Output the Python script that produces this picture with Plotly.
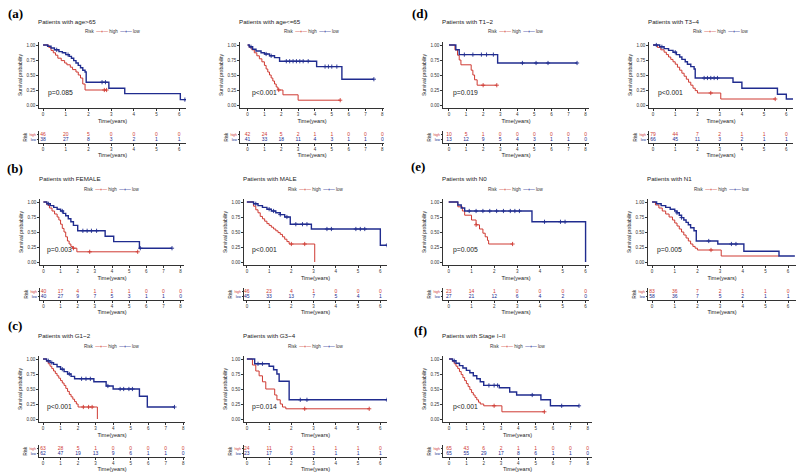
import plotly.graph_objects as go

RED = "#CF3A32"
BLUE = "#202C8F"

# ---------------- data ----------------
# (a) age>65
a1_high_t = [0, 0.25, 0.35, 0.45, 0.55, 0.65, 0.8, 0.95, 1.05, 1.2, 1.3, 1.45, 1.55, 1.65, 1.75, 1.85]
a1_high_s = [1, 0.96, 0.91, 0.87, 0.83, 0.78, 0.74, 0.70, 0.67, 0.63, 0.59, 0.55, 0.50, 0.45, 0.35, 0.25]
a1_high_end = 2.8
a1_high_cens = [2.7, 2.8]
a1_low_t = [0, 0.2, 0.35, 0.5, 0.7, 0.85, 1.0, 1.15, 1.25, 1.35, 1.45, 1.55, 1.65, 1.75, 1.85, 1.9, 2.9, 3.6, 6.05]
a1_low_s = [1, 0.98, 0.95, 0.92, 0.89, 0.87, 0.84, 0.81, 0.78, 0.74, 0.70, 0.66, 0.62, 0.58, 0.55, 0.38, 0.28, 0.19, 0.09]
a1_low_end = 6.3
a1_low_cens = [0.6, 1.1, 2.6, 2.75, 6.25]
a1_risk_high = [46, 20, 5, 0, 0, 0, 0]
a1_risk_low = [38, 27, 8, 3, 2, 1, 1]

# (a) age<=65
a2_high_t = [0, 0.1, 0.25, 0.4, 0.55, 0.7, 0.85, 1.0, 1.1, 1.2, 1.3, 1.4, 1.5, 1.6, 1.7, 1.8, 2.1, 3.0]
a2_high_s = [1, 0.96, 0.92, 0.87, 0.82, 0.77, 0.72, 0.66, 0.60, 0.55, 0.50, 0.45, 0.40, 0.35, 0.30, 0.25, 0.17, 0.08]
a2_high_end = 5.5
a2_high_cens = [1.85, 5.5]
a2_low_t = [0, 0.1, 0.3, 0.5, 0.8, 1.0, 1.3, 1.6, 1.9, 4.1, 5.6]
a2_low_s = [1, 0.97, 0.93, 0.90, 0.87, 0.85, 0.82, 0.79, 0.73, 0.64, 0.43]
a2_low_end = 7.5
a2_low_cens = [0.2, 1.1, 1.4, 2.3, 2.5, 2.7, 2.9, 3.1, 3.3, 3.6, 4.6, 4.8, 5.0, 5.3, 7.5]
a2_risk_high = [42, 24, 5, 2, 1, 1, 0, 0, 0]
a2_risk_low = [41, 33, 18, 11, 4, 3, 1, 1, 0]

# (d) T1~2
d1_high_t = [0, 0.35, 0.5, 0.6, 0.7, 1.3, 1.4, 1.5, 1.65]
d1_high_s = [1, 0.92, 0.83, 0.75, 0.67, 0.58, 0.50, 0.42, 0.33]
d1_high_end = 2.8
d1_high_cens = [2.0, 2.8]
d1_low_t = [0, 0.4, 0.6, 2.85]
d1_low_s = [1, 0.92, 0.84, 0.70]
d1_low_end = 7.5
d1_low_cens = [0.9, 1.4, 1.9, 2.2, 2.6, 4.3, 5.1, 5.8, 7.5]
d1_risk_high = [10, 5, 1, 0, 0, 0, 0, 0, 0]
d1_risk_low = [13, 12, 9, 5, 4, 3, 1, 1, 0]

# (d) T3~4
d2_high_t = [0, 0.2, 0.35, 0.5, 0.6, 0.7, 0.8, 0.9, 1.0, 1.1, 1.2, 1.3, 1.4, 1.5, 1.6, 1.7, 1.8, 1.9, 2.0, 3.05]
d2_high_s = [1, 0.96, 0.92, 0.88, 0.84, 0.80, 0.76, 0.72, 0.68, 0.63, 0.58, 0.53, 0.48, 0.43, 0.38, 0.33, 0.28, 0.24, 0.20, 0.10]
d2_high_end = 5.5
d2_high_cens = [2.6, 5.5]
d2_low_t = [0, 0.3, 0.5, 0.7, 0.9, 1.05, 1.2, 1.3, 1.45, 1.55, 1.7, 1.85, 1.9, 3.6, 4.0, 5.6, 6.0]
d2_low_s = [1, 0.97, 0.94, 0.91, 0.88, 0.84, 0.80, 0.76, 0.72, 0.68, 0.64, 0.60, 0.45, 0.38, 0.28, 0.18, 0.10]
d2_low_end = 6.3
d2_low_cens = [0.15, 0.4, 1.0, 2.3, 2.45, 2.6, 2.75, 2.9]
d2_risk_high = [79, 44, 7, 2, 1, 1, 0]
d2_risk_low = [66, 45, 11, 3, 2, 1, 1]

# (b) FEMALE
b1_high_t = [0, 0.2, 0.35, 0.5, 0.65, 0.8, 0.9, 1.0, 1.1, 1.2, 1.3, 1.4, 1.5, 1.6, 1.7, 1.95]
b1_high_s = [1, 0.95, 0.90, 0.85, 0.80, 0.75, 0.70, 0.63, 0.56, 0.50, 0.42, 0.35, 0.30, 0.26, 0.23, 0.17]
b1_high_end = 5.5
b1_high_cens = [1.75, 2.7, 5.5]
b1_low_t = [0, 0.2, 0.4, 0.6, 0.8, 1.0, 1.15, 1.3, 1.45, 1.6, 1.75, 2.0, 3.6, 4.1, 5.6]
b1_low_s = [1, 0.97, 0.94, 0.91, 0.88, 0.85, 0.81, 0.77, 0.72, 0.67, 0.61, 0.52, 0.43, 0.34, 0.23]
b1_low_end = 7.5
b1_low_cens = [0.3, 1.1, 2.3, 2.55, 2.8, 3.1, 5.65, 7.5]
b1_risk_high = [40, 17, 4, 1, 1, 1, 0, 0, 0]
b1_risk_low = [40, 27, 9, 7, 5, 3, 1, 1, 0]

# (b) MALE
b2_high_t = [0, 0.3, 0.4, 0.5, 0.6, 0.7, 0.8, 0.9, 1.0, 1.1, 1.2, 1.3, 1.4, 1.5, 1.6, 1.7, 1.8, 1.9, 3.05]
b2_high_s = [1, 0.93, 0.87, 0.82, 0.76, 0.72, 0.68, 0.64, 0.61, 0.58, 0.55, 0.52, 0.49, 0.46, 0.42, 0.38, 0.34, 0.30, 0.0]
b2_high_end = 3.05
b2_high_cens = [2.0, 2.6]
b2_low_t = [0, 0.3, 0.5, 0.7, 0.9, 1.1, 1.3, 1.5, 1.7, 1.95, 2.9, 6.0]
b2_low_s = [1, 0.97, 0.94, 0.91, 0.88, 0.85, 0.82, 0.79, 0.75, 0.63, 0.55, 0.28]
b2_low_end = 6.3
b2_low_cens = [0.4, 1.0, 1.2, 1.5, 1.8, 2.2, 2.5, 2.7, 3.6, 3.8, 4.9, 5.1, 5.3, 6.3]
b2_risk_high = [46, 23, 4, 1, 0, 0, 0]
b2_risk_low = [45, 33, 13, 7, 5, 4, 1]

# (e) N0
e1_high_t = [0, 0.4, 0.6, 0.7, 1.0, 1.2, 1.35, 1.5, 1.6, 1.7, 1.75]
e1_high_s = [1, 0.92, 0.85, 0.78, 0.70, 0.62, 0.55, 0.48, 0.42, 0.36, 0.30]
e1_high_end = 2.8
e1_high_cens = [1.2, 2.8]
e1_low_t = [0, 0.4, 0.55, 0.7, 3.65, 6.0]
e1_low_s = [1, 0.95, 0.90, 0.85, 0.67, 0.0]
e1_low_end = 6.0
e1_low_cens = [0.9, 1.2, 1.5, 1.8, 2.1, 2.4, 2.7, 2.9, 3.1, 4.2, 4.9, 5.1]
e1_risk_high = [23, 14, 1, 0, 0, 0, 0]
e1_risk_low = [27, 21, 12, 6, 4, 2, 0]

# (e) N1
e2_high_t = [0, 0.15, 0.3, 0.45, 0.6, 0.75, 0.9, 1.0, 1.1, 1.2, 1.3, 1.4, 1.5, 1.6, 1.7, 1.8, 1.9, 2.0, 3.05]
e2_high_s = [1, 0.95, 0.90, 0.85, 0.80, 0.75, 0.70, 0.65, 0.60, 0.55, 0.50, 0.45, 0.40, 0.35, 0.30, 0.26, 0.23, 0.20, 0.10]
e2_high_end = 5.6
e2_high_cens = [2.6]
e2_low_t = [0, 0.2, 0.4, 0.6, 0.8, 1.0, 1.1, 1.2, 1.3, 1.4, 1.5, 1.6, 1.7, 1.85, 1.95, 2.9, 4.05, 5.6]
e2_low_s = [1, 0.97, 0.94, 0.91, 0.88, 0.85, 0.82, 0.78, 0.74, 0.70, 0.66, 0.62, 0.57, 0.52, 0.35, 0.30, 0.18, 0.10]
e2_low_end = 6.3
e2_low_cens = [1.1, 1.3, 2.5, 3.5, 3.7]
e2_risk_high = [83, 36, 7, 2, 1, 1, 0]
e2_risk_low = [58, 36, 7, 5, 2, 1, 1]

# (c) G1~2
c1_high_t = [0, 0.2, 0.3, 0.4, 0.5, 0.6, 0.7, 0.8, 0.9, 1.0, 1.1, 1.2, 1.3, 1.4, 1.5, 1.6, 1.7, 1.8, 1.9, 2.0, 3.1]
c1_high_s = [1, 0.96, 0.92, 0.88, 0.84, 0.80, 0.76, 0.72, 0.68, 0.64, 0.60, 0.56, 0.51, 0.46, 0.41, 0.37, 0.33, 0.29, 0.25, 0.20, 0.0]
c1_high_end = 3.1
c1_high_cens = [2.3, 2.6, 2.8]
c1_low_t = [0, 0.2, 0.4, 0.6, 0.8, 1.0, 1.2, 1.4, 1.6, 1.8, 2.9, 3.6, 4.0, 5.5, 5.95]
c1_low_s = [1, 0.97, 0.94, 0.91, 0.87, 0.83, 0.79, 0.75, 0.71, 0.67, 0.62, 0.55, 0.50, 0.38, 0.20]
c1_low_end = 7.5
c1_low_cens = [0.3, 0.5, 1.1, 1.5, 2.2, 2.45, 2.7, 3.7, 4.4, 4.6, 4.9, 5.1, 7.5]
c1_risk_high = [63, 28, 5, 1, 0, 0, 0, 0, 0]
c1_risk_low = [62, 47, 19, 13, 9, 6, 1, 1, 0]

# (c) G3~4
c2_high_t = [0, 0.25, 0.4, 0.55, 0.7, 0.85, 1.25, 1.35, 1.5, 1.6, 1.75]
c2_high_s = [1, 0.90, 0.80, 0.72, 0.62, 0.50, 0.40, 0.32, 0.25, 0.20, 0.17]
c2_high_end = 5.5
c2_high_cens = [2.6, 5.5]
c2_low_t = [0, 0.35, 1.0, 1.2, 1.35, 1.45, 1.9]
c2_low_s = [1, 0.92, 0.88, 0.82, 0.75, 0.63, 0.32]
c2_low_end = 6.3
c2_low_cens = [0.5, 0.7, 2.4, 2.7, 6.3]
c2_risk_high = [24, 11, 2, 1, 1, 1, 0]
c2_risk_low = [23, 17, 6, 3, 1, 1, 1]

# (f) Stage I~II
f_high_t = [0, 0.2, 0.3, 0.4, 0.5, 0.6, 0.7, 0.8, 0.9, 1.0, 1.1, 1.2, 1.3, 1.4, 1.5, 1.6, 1.7, 1.8, 2.0, 3.05]
f_high_s = [1, 0.96, 0.92, 0.88, 0.84, 0.79, 0.74, 0.69, 0.64, 0.59, 0.54, 0.49, 0.44, 0.40, 0.36, 0.32, 0.28, 0.25, 0.22, 0.12]
f_high_end = 5.5
f_high_cens = [2.6, 5.5]
f_low_t = [0, 0.2, 0.4, 0.6, 0.8, 1.0, 1.2, 1.4, 1.6, 1.8, 2.0, 2.9, 3.5, 3.9, 5.3, 5.85]
f_low_s = [1, 0.97, 0.93, 0.89, 0.85, 0.81, 0.77, 0.72, 0.67, 0.62, 0.56, 0.52, 0.45, 0.40, 0.32, 0.22]
f_low_end = 7.5
f_low_cens = [0.3, 2.3, 2.6, 2.8, 4.8, 6.5, 7.5]
f_risk_high = [65, 43, 6, 2, 1, 1, 0, 0, 0]
f_risk_low = [65, 55, 29, 17, 8, 6, 1, 1, 0]

titles = ["Patients with age>65", "Patients with age<=65", "Patients with T1~2", "Patients with T3~4",
          "Patients with FEMALE", "Patients with MALE", "Patients with N0", "Patients with N1",
          "Patients with G1~2", "Patients with G3~4", "Patients with Stage I~II"]
pvalues = ["p=0.085", "p<0.001", "p=0.019", "p<0.001",
           "p=0.003", "p<0.001", "p=0.005", "p=0.005",
           "p<0.001", "p=0.014", "p<0.001"]
xmax_years = [6, 8, 8, 6, 8, 6, 6, 6, 8, 6, 8]
panel_letters = ["(a)", "(b)", "(c)", "(d)", "(e)", "(f)"]

curves = [
    (a1_high_t, a1_high_s, a1_high_end, a1_high_cens, a1_low_t, a1_low_s, a1_low_end, a1_low_cens, a1_risk_high, a1_risk_low),
    (a2_high_t, a2_high_s, a2_high_end, a2_high_cens, a2_low_t, a2_low_s, a2_low_end, a2_low_cens, a2_risk_high, a2_risk_low),
    (d1_high_t, d1_high_s, d1_high_end, d1_high_cens, d1_low_t, d1_low_s, d1_low_end, d1_low_cens, d1_risk_high, d1_risk_low),
    (d2_high_t, d2_high_s, d2_high_end, d2_high_cens, d2_low_t, d2_low_s, d2_low_end, d2_low_cens, d2_risk_high, d2_risk_low),
    (b1_high_t, b1_high_s, b1_high_end, b1_high_cens, b1_low_t, b1_low_s, b1_low_end, b1_low_cens, b1_risk_high, b1_risk_low),
    (b2_high_t, b2_high_s, b2_high_end, b2_high_cens, b2_low_t, b2_low_s, b2_low_end, b2_low_cens, b2_risk_high, b2_risk_low),
    (e1_high_t, e1_high_s, e1_high_end, e1_high_cens, e1_low_t, e1_low_s, e1_low_end, e1_low_cens, e1_risk_high, e1_risk_low),
    (e2_high_t, e2_high_s, e2_high_end, e2_high_cens, e2_low_t, e2_low_s, e2_low_end, e2_low_cens, e2_risk_high, e2_risk_low),
    (c1_high_t, c1_high_s, c1_high_end, c1_high_cens, c1_low_t, c1_low_s, c1_low_end, c1_low_cens, c1_risk_high, c1_risk_low),
    (c2_high_t, c2_high_s, c2_high_end, c2_high_cens, c2_low_t, c2_low_s, c2_low_end, c2_low_cens, c2_risk_high, c2_risk_low),
    (f_high_t, f_high_s, f_high_end, f_high_cens, f_low_t, f_low_s, f_low_end, f_low_cens, f_risk_high, f_risk_low),
]

# ---------------- layout geometry (pixels) ----------------
W, H = 800, 475
# (row, left px, right px, x-range low, x-range high)
geom = [
    (0, 39, 186, -0.18, 6.3), (0, 240, 384, -0.45, 8.1), (0, 443, 589, -0.35, 8.2), (0, 649, 793, -0.18, 6.3),
    (1, 40, 184, -0.2, 8.2), (1, 244, 387, -0.13, 6.3), (1, 443, 589, -0.25, 6.15), (1, 648, 796, -0.18, 6.35),
    (2, 39, 185, -0.23, 8.1), (2, 244, 387, -0.13, 6.3), (2, 443, 592, -0.35, 8.25),
]
letter_pos = [(15, 13), (15, 168), (15, 325), (420, 13), (418, 166), (420, 330)]
ROW_DY = 157


def px_x(p):
    return p / W


def px_y(p):
    return 1 - p / H


def step_at(t, s, x):
    v = s[0]
    for ti, si in zip(t, s):
        if ti <= x:
            v = si
    return v


FONT = "Liberation Sans, Arial, sans-serif"
fig = go.Figure()
layout = dict(width=W, height=H, margin=dict(l=0, r=0, t=0, b=0, pad=0), autosize=False,
              paper_bgcolor="white", plot_bgcolor="white", showlegend=False,
              font=dict(family=FONT, color="#222222", size=5))
annotations = []

for k, (cv, g) in enumerate(zip(curves, geom)):
    ht, hs, hend, hcens, lt, ls, lend, lcens, rh, rl = cv
    row, L, R, x0, x1 = g
    xm = xmax_years[k]
    n_plot = 2 * k + 1
    n_tab = 2 * k + 2
    xr = lambda n: "x" if n == 1 else f"x{n}"
    yr = lambda n: "y" if n == 1 else f"y{n}"
    xa = lambda n: "xaxis" if n == 1 else f"xaxis{n}"
    ya = lambda n: "yaxis" if n == 1 else f"yaxis{n}"

    top = 42 + ROW_DY * row
    bot = 108 + ROW_DY * row
    ttop = 131 + ROW_DY * row
    tbot = 143 + ROW_DY * row

    for t, s, end, cens, col, w in [(ht, hs, hend, hcens, RED, 1.0), (lt, ls, lend, lcens, BLUE, 1.4)]:
        fig.add_trace(go.Scatter(x=t + [end], y=s + [s[-1]], mode="lines",
                                 line=dict(shape="hv", color=col, width=w),
                                 xaxis=xr(n_plot), yaxis=yr(n_plot), hoverinfo="skip"))
        fig.add_trace(go.Scatter(x=cens, y=[step_at(t, s, c) for c in cens], mode="markers",
                                 marker=dict(symbol="cross-thin", size=3, line=dict(width=0.9, color=col)),
                                 xaxis=xr(n_plot), yaxis=yr(n_plot), hoverinfo="skip"))

    ticks = list(range(0, xm + 1))
    fig.add_trace(go.Scatter(x=ticks, y=[1] * len(ticks), mode="text", text=[str(v) for v in rh],
                             textfont=dict(color=RED, size=5, family=FONT),
                             xaxis=xr(n_tab), yaxis=yr(n_tab), hoverinfo="skip"))
    fig.add_trace(go.Scatter(x=ticks, y=[0] * len(ticks), mode="text", text=[str(v) for v in rl],
                             textfont=dict(color=BLUE, size=5, family=FONT),
                             xaxis=xr(n_tab), yaxis=yr(n_tab), hoverinfo="skip"))

    common_x = dict(range=[x0, x1], tickvals=ticks, showline=True, linecolor="black", linewidth=0.8,
                    ticks="outside", ticklen=2, tickwidth=0.8, tickcolor="black", showgrid=False,
                    zeroline=False, tickfont=dict(size=4.5, color="#333"), fixedrange=True, automargin=False)
    layout[xa(n_plot)] = dict(common_x, domain=[px_x(L), px_x(R)], anchor=yr(n_plot),
                              title=dict(text="Time(years)", font=dict(size=5.5), standoff=2))
    layout[ya(n_plot)] = dict(domain=[px_y(bot), px_y(top)], anchor=xr(n_plot), range=[-0.05, 1.05],
                              tickvals=[0, 0.25, 0.5, 0.75, 1.0],
                              ticktext=["0.00", "0.25", "0.50", "0.75", "1.00"],
                              showline=True, linecolor="black", linewidth=0.8, ticks="outside", ticklen=2,
                              tickwidth=0.8, tickcolor="black", showgrid=False, zeroline=False,
                              tickfont=dict(size=4.5, color="#333"), automargin=False, fixedrange=True,
                              title=dict(text="Survival probability", font=dict(size=5), standoff=3))
    layout[xa(n_tab)] = dict(common_x, domain=[px_x(L), px_x(R)], anchor=yr(n_tab),
                             title=dict(text="Time(years)", font=dict(size=5.5), standoff=1))
    layout[ya(n_tab)] = dict(domain=[px_y(tbot), px_y(ttop)], anchor=xr(n_tab), range=[-0.6, 1.6],
                             tickvals=[0, 1],
                             ticktext=[f"<span style='color:{BLUE}'>low</span>",
                                       f"<span style='color:{RED}'>high</span>"],
                             showline=True, linecolor="black", linewidth=0.8, ticks="outside", ticklen=1.5,
                             tickwidth=0.8, tickcolor="black", showgrid=False, zeroline=False, automargin=False,
                             fixedrange=True,
                             tickfont=dict(size=3.5), title=dict(text="Risk", font=dict(size=4.5), standoff=1))

    # title
    annotations.append(dict(text=titles[k], xref="paper", yref="paper", x=px_x(L - 3),
                            y=px_y(21 + ROW_DY * row), xanchor="left", yanchor="middle", showarrow=False,
                            font=dict(size=6.2, color="#222")))
    # legend
    annotations.append(dict(text=(f"Risk  <span style='color:{RED}'>—+—</span> high  "
                                  f"<span style='color:{BLUE}'>—+—</span> low"),
                            xref="paper", yref="paper", x=px_x((L + R) / 2), y=px_y(32 + ROW_DY * row),
                            xanchor="center", yanchor="middle", showarrow=False,
                            font=dict(size=4.5, color="#333")))
    # p value
    annotations.append(dict(text=pvalues[k], xref=xr(n_plot), yref=yr(n_plot), x=0.12, y=0.2,
                            xanchor="left", yanchor="middle", showarrow=False,
                            font=dict(size=6.8, color="#222")))

for lab, (lx, ly) in zip(panel_letters, letter_pos):
    annotations.append(dict(text=f"<b>{lab}</b>", xref="paper", yref="paper", x=px_x(lx), y=px_y(ly),
                            xanchor="center", yanchor="middle", showarrow=False,
                            font=dict(size=13, family="Liberation Serif, Times New Roman, serif", color="black")))

layout["annotations"] = annotations
fig.update_layout(**layout)
fig.write_html("out.html", config={"displayModeBar": False, "staticPlot": True},
               post_script="document.body.style.margin='0px';document.body.style.padding='0px';")
